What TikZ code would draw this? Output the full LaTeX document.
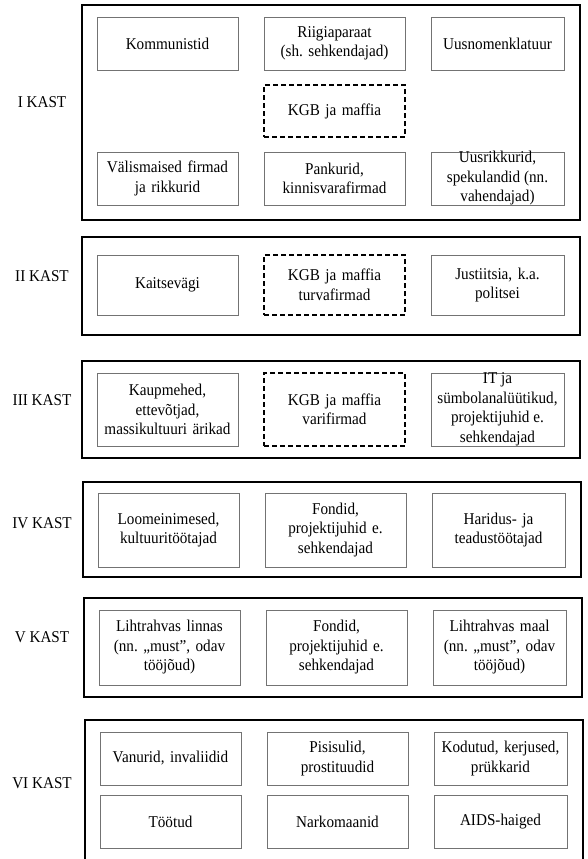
\documentclass[tikz,border=0pt]{standalone}
\usepackage{fontspec}
\setmainfont{Liberation Serif}[FakeStretch=0.92]
\newcommand\txtfont{\fontsize{16.5}{19.5}\selectfont}
\frenchspacing
\begin{document}
\begin{tikzpicture}[x=1pt,y=-1pt,
  outerbox/.style={draw=black,line width=2.2pt,inner sep=0pt},
  cell/.style={draw=black!55,line width=0.8pt,inner sep=0pt,align=center,font=\txtfont},
  colA/.style={cell,minimum width=141pt,text width=141pt},
  colC/.style={cell,minimum width=133pt,text width=133pt},
  hgt/.style={minimum height=#1pt},
  dcell/.style={draw=black,line width=1.5pt,dash pattern=on 5pt off 3pt},
  lbl/.style={font=\txtfont,inner sep=0pt}]
\useasboundingbox (0,0) rectangle (587,859);
\clip (0,0) rectangle (587,859);
\fill[white] (0,0) rectangle (587,859);

% ---------- I KAST ----------
\node[outerbox,minimum width=498pt,minimum height=215pt] (kI) at (331,112.5) {};
\node[lbl] (lI) at (42,102) {I KAST};
\node[colA,hgt=53] (a1) at (167.5,43.5) {Kommunistid};
\node[colA,hgt=53] (a2) at (334.5,43.5) {Riigiaparaat\\(sh. sehkendajad)};
\node[colC,hgt=53] (a3) at (497.5,43.5) {Uusnomenklatuur};
\node[colA,dcell,hgt=52] (a4) at (334.5,111) {KGB ja maffia};
\node[colA,hgt=53] (a5) at (167.5,178.5) {Välismaised firmad\\ja rikkurid};
\node[colA,hgt=53] (a6) at (334.5,178.5) {Pankurid,\\kinnisvarafirmad};
\node[colC,minimum height=53pt,text height=0pt,text depth=0pt] (a7) at (497.5,178.5) {};
\node[font=\txtfont,align=center,inner sep=0pt] (a7t) at (a7.center) {Uusrikkurid,\\spekulandid (nn.\\vahendajad)};

% ---------- II KAST ----------
\node[outerbox,minimum width=498pt,minimum height=98pt] (kII) at (331,286) {};
\node[lbl] (lII) at (42,276) {II KAST};
\node[colA,hgt=60] (b1) at (167.5,285) {Kaitsevägi};
\node[colA,dcell,hgt=60] (b2) at (334.5,285) {KGB ja maffia\\turvafirmad};
\node[colC,hgt=60] (b3) at (497.5,285) {Justiitsia, k.a.\\politsei};

% ---------- III KAST ----------
\node[outerbox,minimum width=498pt,minimum height=97pt] (kIII) at (331,409.5) {};
\node[lbl] (lIII) at (42,400) {III KAST};
\node[colA,hgt=73] (c1) at (167.5,409.5) {Kaupmehed,\\ettevõtjad,\\massikultuuri ärikad};
\node[colA,dcell,hgt=73] (c2) at (334.5,409.5) {KGB ja maffia\\varifirmad};
\node[colC,minimum height=73pt,text height=0pt,text depth=0pt] (c3) at (497.5,409.5) {};
\node[font=\txtfont,align=center,inner sep=0pt] (c3t) at (c3.center) {IT ja\\sümbolanalüütikud,\\projektijuhid e.\\sehkendajad};

% ---------- IV KAST ----------
\node[outerbox,minimum width=498pt,minimum height=95pt] (kIV) at (332,529.5) {};
\node[lbl] (lIV) at (42,523) {IV KAST};
\node[colA,hgt=74] (d1) at (168.5,530) {Loomeinimesed,\\kultuuritöötajad};
\node[colA,hgt=74] (d2) at (335.5,530) {Fondid,\\projektijuhid e.\\sehkendajad};
\node[colC,hgt=74] (d3) at (498.5,530) {Haridus- ja\\teadustöötajad};

% ---------- V KAST ----------
\node[outerbox,minimum width=498pt,minimum height=99pt] (kV) at (333,647.5) {};
\node[lbl] (lV) at (42,637) {V KAST};
\node[colA,hgt=75] (e1) at (169.5,647.5) {Lihtrahvas linnas\\(nn. „must”, odav\\tööjõud)};
\node[colA,hgt=75] (e2) at (336.5,647.5) {Fondid,\\projektijuhid e.\\sehkendajad};
\node[colC,hgt=75] (e3) at (499.5,647.5) {Lihtrahvas maal\\(nn. „must”, odav\\tööjõud)};

% ---------- VI KAST ----------
\node[outerbox,minimum width=498pt,minimum height=160pt] (kVI) at (334,800) {};
\node[lbl] (lVI) at (42,783) {VI KAST};
\node[colA,hgt=53] (f1) at (170.5,758.5) {Vanurid, invaliidid};
\node[colA,hgt=53] (f2) at (337.5,758.5) {Pisisulid,\\prostituudid};
\node[colC,hgt=53] (f3) at (500.5,758.5) {Kodutud, kerjused,\\prükkarid};
\node[colA,hgt=53] (f4) at (170.5,821.5) {Töötud};
\node[colA,hgt=53] (f5) at (337.5,821.5) {Narkomaanid};
\node[colC,hgt=53] (f6) at (500.5,821.5) {AIDS-haiged};
\end{tikzpicture}
\end{document}
